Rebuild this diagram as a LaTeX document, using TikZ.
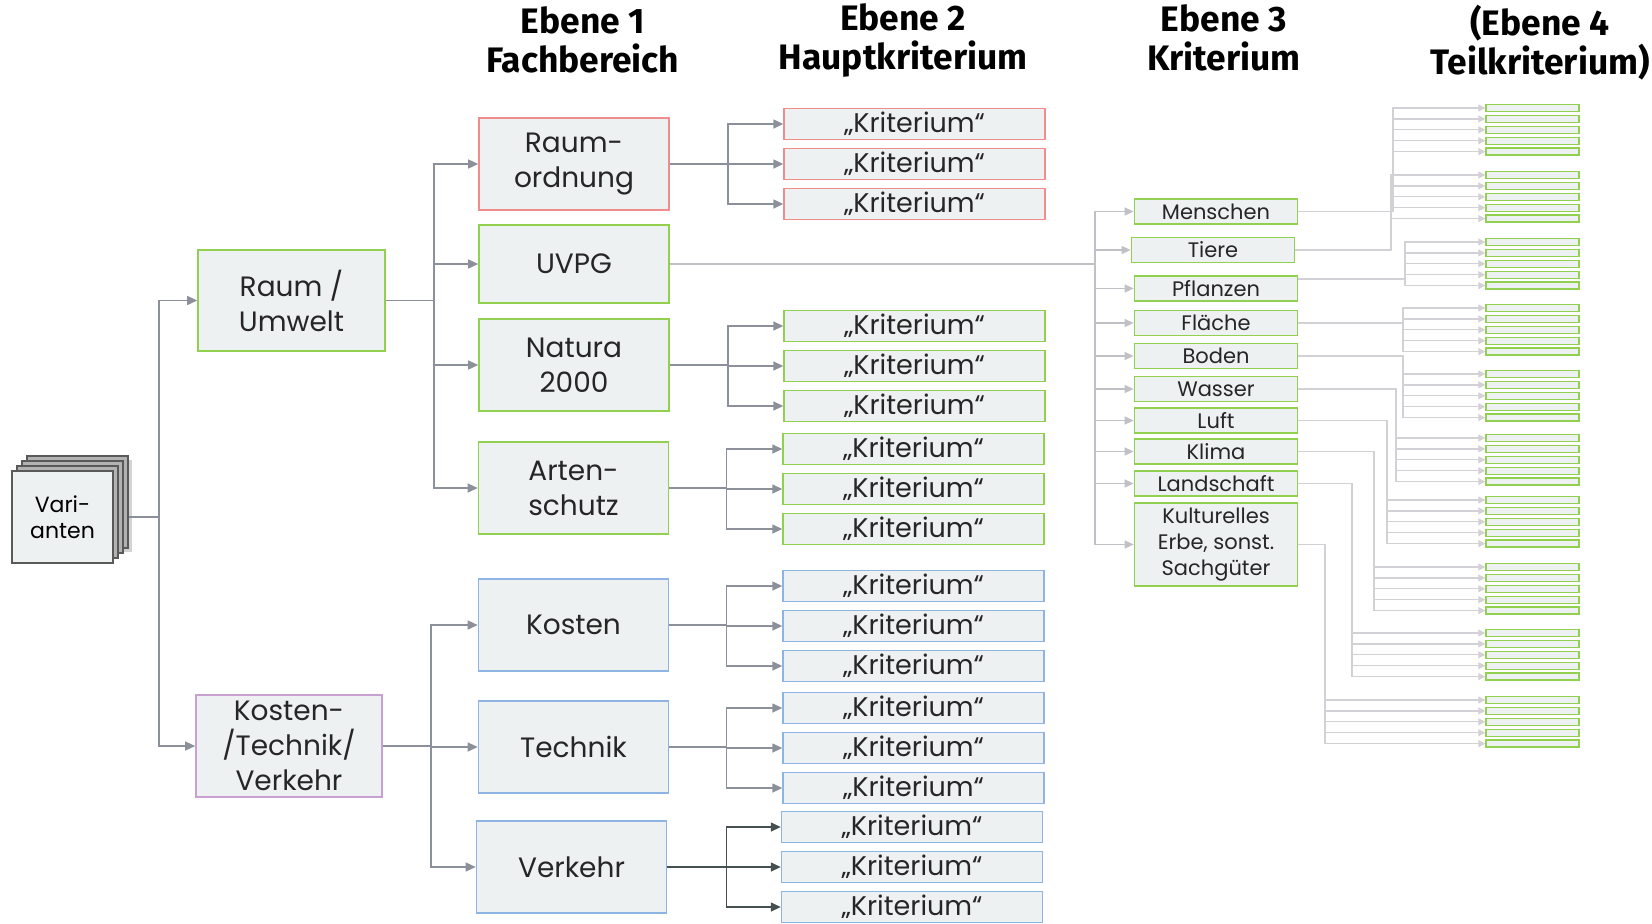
\documentclass[tikz,border=0pt]{standalone}
\usepackage{fontspec}
\setmainfont{Poppins}
\newfontfamily\headfont{Fira Sans}
\usetikzlibrary{arrows.meta,shadows}
\definecolor{boxfill}{RGB}{238,241,241}
\definecolor{rosa}{RGB}{240,140,140}
\definecolor{gruen}{RGB}{146,208,80}
\definecolor{blau}{RGB}{141,180,226}
\definecolor{lila}{RGB}{200,160,210}
\definecolor{linie}{RGB}{140,144,154}
\definecolor{dunkel}{RGB}{70,80,80}
\definecolor{hell}{RGB}{192,193,198}
\definecolor{blass}{RGB}{210,210,214}

\begin{document}
\begin{tikzpicture}[x=0.5pt,y=-0.5pt,
  box/.style={draw, fill=boxfill, inner sep=0pt, align=center, text=black!85},
  fach/.style={box, line width=0.8pt, minimum width=95pt, minimum height=46pt, font=\fontsize{14}{17.5}\selectfont},
  krit/.style={box, line width=0.7pt, minimum width=130.5pt, minimum height=15.5pt, font=\fontsize{13.5}{16}\selectfont},
  ebene3/.style={box, draw=gruen, line width=0.9pt, minimum width=81.5pt, minimum height=12.5pt, font=\fontsize{10.5}{13}\selectfont},
  teil/.style={box, draw=gruen, line width=0.7pt, minimum width=46.5pt, minimum height=3.5pt},
  stack/.style={draw=black!65, fill=black!30, line width=0.8pt, inner sep=0pt, minimum width=50.5pt, minimum height=46pt, align=center, font=\fontsize{11}{13}\selectfont},
  kopf/.style={align=center, inner sep=0pt, font=\headfont\bfseries\fontsize{17.7}{19.5}\selectfont},
  verbinder/.style={draw=linie, line width=0.7pt, -{Triangle[length=5pt,width=4.5pt]}},
  verbdunkel/.style={verbinder, draw=dunkel},
  l3/.style={draw=hell, line width=0.7pt, -{Triangle[length=4.5pt,width=4pt]}},
  l4/.style={draw=blass, line width=0.6pt, -{Triangle[length=3.5pt,width=3.5pt]}}]
\useasboundingbox (0,0) rectangle (1652,923);

\node[kopf] (h1) at (583,40) {Ebene 1\\Fachbereich};
\node[kopf] (h2) at (903,40) {Ebene 2\\Hauptkriterium};
\node[kopf] (h3) at (1224,38) {Ebene 3\\Kriterium};
\node[kopf] (h4) at (1540,43) {(Ebene 4\\Teilkriterium)};

\node[stack, drop shadow={shadow xshift=2pt, shadow yshift=-2pt, opacity=0.35}] (var3) at (77.5,502) {};
\node[stack] (var2) at (72.5,507) {};
\node[stack] (var1) at (67.5,512) {};
\node[stack, fill=boxfill] (var) at (62.5,517) {Vari-\\anten};

\node[fach, draw=gruen, minimum width=93.5pt, minimum height=50.5pt] (ru) at (291.5,300.5) {Raum /\\Umwelt};
\node[fach, draw=lila, minimum width=93pt, minimum height=51pt] (ktv) at (289,746) {Kosten-\\/Technik/\\Verkehr};

\node[fach, draw=rosa] (ro) at (574,164) {Raum-\\ordnung};
\node[fach, draw=gruen, minimum height=39pt] (uvpg) at (574,264) {UVPG};
\node[fach, draw=gruen] (nat) at (574,365) {Natura\\2000};
\node[fach, draw=gruen] (art) at (573.5,488) {Arten-\\schutz};
\node[fach, draw=blau] (kos) at (573.5,625) {Kosten};
\node[fach, draw=blau] (tec) at (573.5,747) {Technik};
\node[fach, draw=blau] (ver) at (571.5,867) {Verkehr};

\foreach \p/\col/\x/\ya in {ro/rosa/914.5/124, nat/gruen/914.5/326, art/gruen/913.5/449, kos/blau/913.5/586, tec/blau/913.5/708, ver/blau/912/827}
  \foreach \k in {1,2,3}
    \node[krit, draw=\col] (\p\k) at (\x,{\ya+40*(\k-1)}) {„Kriterium“};

\node[ebene3] (men) at (1216,211.5) {Menschen};
\node[ebene3] (tie) at (1213,250) {Tiere};
\node[ebene3] (pfl) at (1216,288.5) {Pflanzen};
\node[ebene3] (fla) at (1216,323) {Fläche};
\node[ebene3] (bod) at (1216,356) {Boden};
\node[ebene3] (was) at (1216,389) {Wasser};
\node[ebene3] (luf) at (1216,420.5) {Luft};
\node[ebene3] (kli) at (1216,451.5) {Klima};
\node[ebene3] (lan) at (1216,483.5) {Landschaft};
\node[ebene3, minimum height=41.5pt] (kul) at (1216,544.5) {Kulturelles\\Erbe, sonst.\\Sachgüter};
\coordinate (pflout) at ([yshift=4.75pt]pfl.east);

\draw[verbinder] (var3.east |- var.east) -- ++(30,0) |- (ru.west);
\draw[verbinder] (var3.east |- var.east) -- ++(30,0) |- (ktv.west);
\foreach \n in {ro,uvpg,nat,art}
  \draw[verbinder] (ru.east) -- ++(48,0) |- (\n.west);
\foreach \n in {kos,tec,ver}
  \draw[verbinder] (ktv.east) -- ++(48,0) |- (\n.west);

\foreach \p/\d in {ro/58, nat/58, art/57, kos/57, tec/57}
  \foreach \k in {1,2,3}
    \draw[verbinder] (\p.east) -- ++(\d,0) |- (\p\k.west);
\foreach \k in {1,2,3}
  \draw[verbdunkel] (ver.east) -- ++(59,0) |- (ver\k.west);

\foreach \n in {men,tie,pfl,fla,bod,was,luf,kli,lan,kul}
  \draw[l3] (uvpg.east) -- ++(425,0) |- (\n.west);

\foreach \src/\tx/\ytop [count=\g] in {men.east/1393/108, tie.east/1391/175, pflout/1405/242, fla.east/1403/308, bod.east/1403/374, was.east/1396/438, luf.east/1387/500, kli.east/1374/567, lan.east/1352/633, kul.east/1325/700}
  \foreach \k in {0,...,4} {
    \node[teil] (t\g-\k) at (1532.5,{\ytop+10.9*\k}) {};
    \draw[l4] (\src) -| (\tx,{\ytop+10.9*\k}) -- (t\g-\k.west);
  }
\end{tikzpicture}
\end{document}
